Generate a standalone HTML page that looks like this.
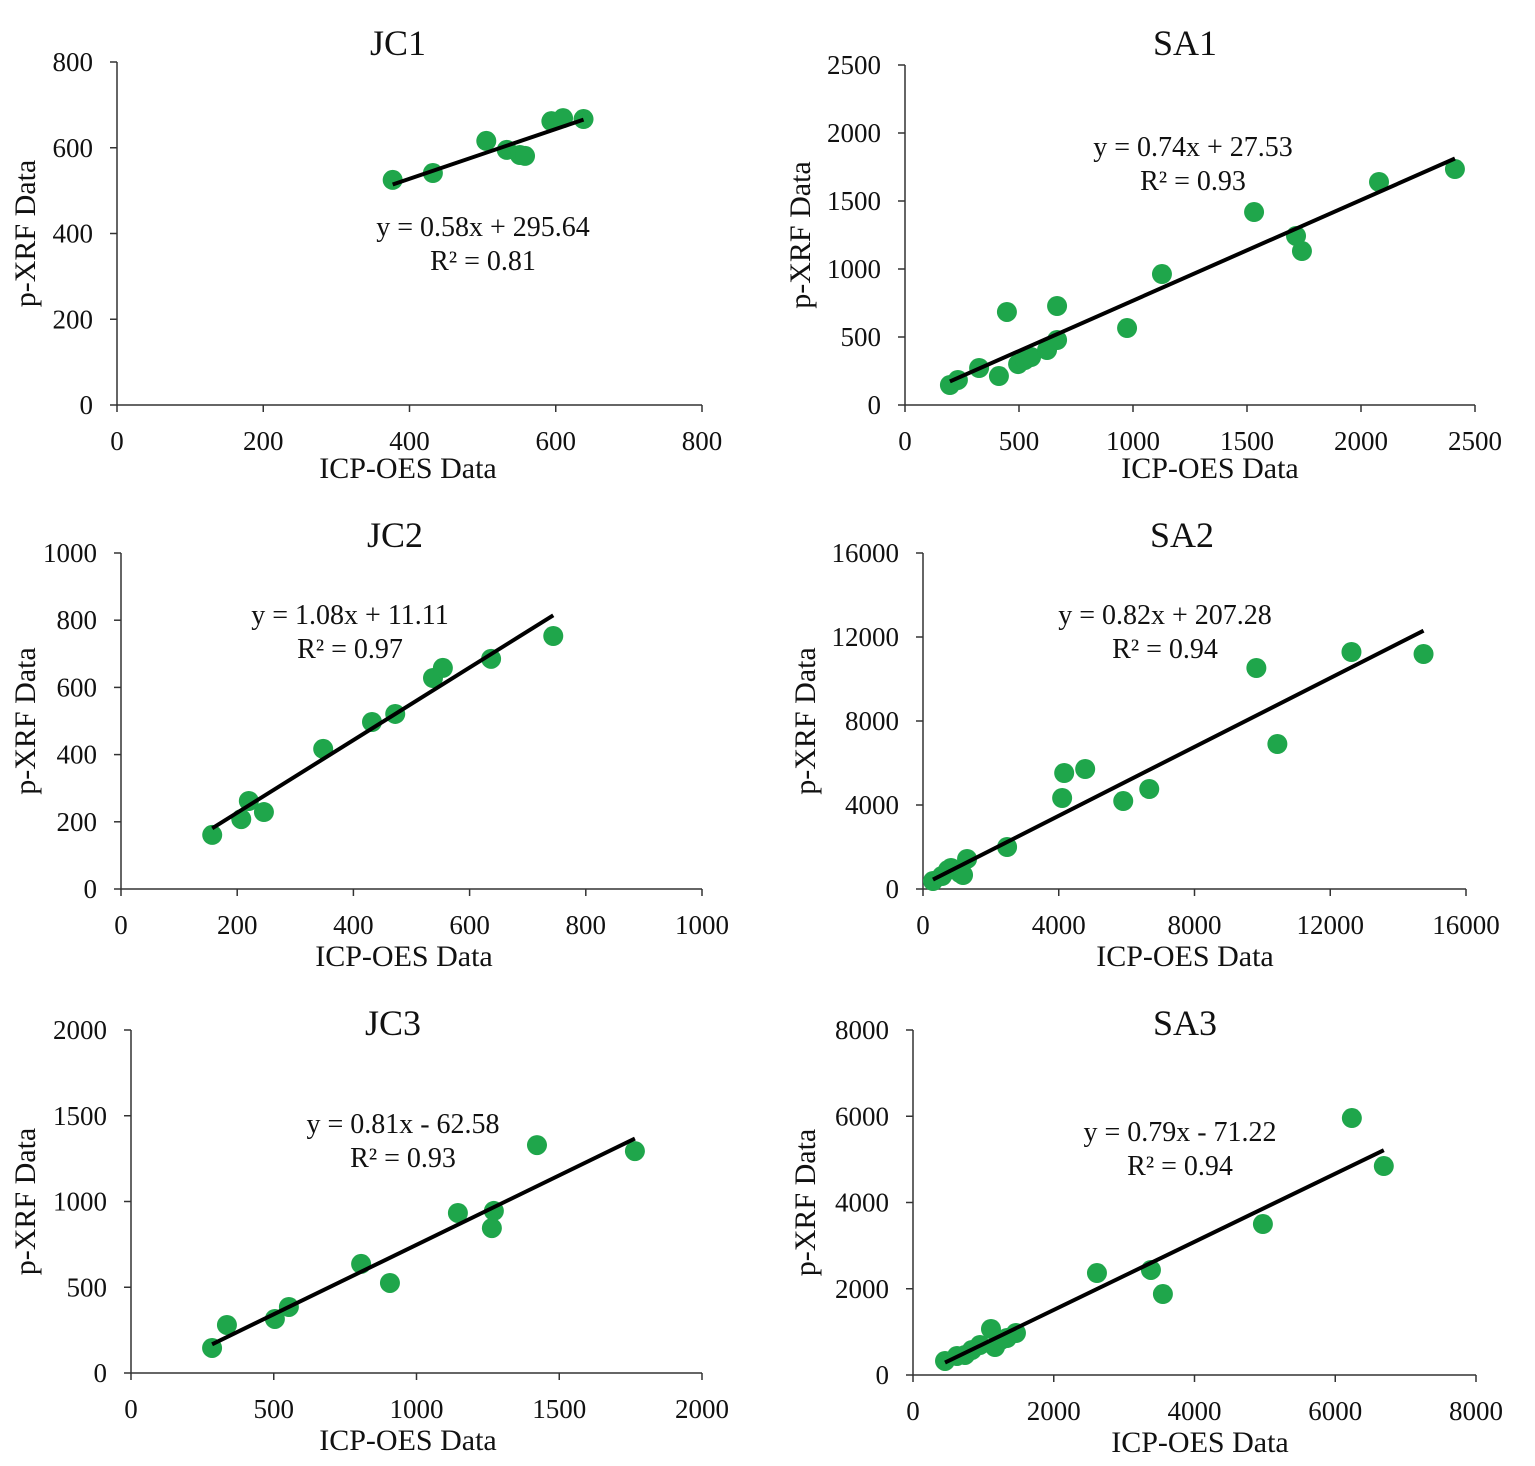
<!DOCTYPE html>
<html><head><meta charset="utf-8">
<style>
html,body{margin:0;padding:0;background:#fff;}
svg text{font-family:"Liberation Serif","Times New Roman",serif;fill:#111;}
</style></head>
<body>
<svg id="fig" width="1535" height="1461" viewBox="0 0 1535 1461" xmlns="http://www.w3.org/2000/svg"></svg>
<script>
// ---- data ----
const jc1X=[377,432,505,533,551,558,594,610,638];
const jc1Y=[525,541,616,595,583,581,662,669,667];
const sa1X=[197,232,325,412,447,496,526,553,623,667,667,974,1127,1531,1715,1741,2079,2412];
const sa1Y=[147,184,272,213,684,301,331,353,404,478,728,566,963,1419,1243,1132,1640,1735];
const jc2X=[157,207,220,246,348,432,472,537,554,637,744];
const jc2Y=[161,208,262,229,417,497,521,628,658,685,753];
const sa2X=[295,560,737,826,1091,1180,1298,2478,4100,4160,4779,5900,6667,9823,10442,12625,14749];
const sa2Y=[381,619,905,1000,762,667,1429,2000,4333,5524,5714,4190,4762,10524,6905,11286,11190];
const jc3X=[284,336,504,553,806,907,1145,1264,1271,1422,1765];
const jc3Y=[146,280,315,385,636,525,933,845,945,1329,1294];
const sa3X=[455,625,739,838,952,1108,1165,1250,1335,1463,2614,3381,3551,4972,6236,6690];
const sa3Y=[325,441,464,580,696,1067,649,812,858,974,2365,2435,1878,3501,5959,4846];
const slopes=[0.58,0.74,1.08,0.82,0.81,0.79];
const intercepts=[295.64,27.53,11.11,207.28,-62.58,-71.22];
const eqLabels=["y = 0.58x + 295.64","y = 0.74x + 27.53","y = 1.08x + 11.11","y = 0.82x + 207.28","y = 0.81x - 62.58","y = 0.79x - 71.22"];
const r2Labels=["R² = 0.81","R² = 0.93","R² = 0.97","R² = 0.94","R² = 0.93","R² = 0.94"];
const titles=["JC1","SA1","JC2","SA2","JC3","SA3"];
const axisMax=[800,2500,1000,16000,2000,8000];
const axisStep=[200,500,200,4000,500,2000];

const xs=[jc1X,sa1X,jc2X,sa2X,jc3X,sa3X];
const ys=[jc1Y,sa1Y,jc2Y,sa2Y,jc3Y,sa3Y];
const layout=[
 {L:117,R:702,T:62,B:405,tx:398,ty:44,ex:483,ey:226,xlx:408,xly:468,ylx:25},
 {L:905,R:1475,T:65,B:405,tx:1185,ty:44,ex:1193,ey:146,xlx:1210,xly:468,ylx:800},
 {L:121,R:702,T:553,B:889,tx:395,ty:536,ex:350,ey:614,xlx:404,xly:956,ylx:25},
 {L:923,R:1466,T:553,B:889,tx:1182,ty:536,ex:1165,ey:614,xlx:1185,xly:956,ylx:805},
 {L:131,R:702,T:1030,B:1373,tx:393,ty:1024,ex:403,ey:1123,xlx:408,xly:1440,ylx:25},
 {L:913,R:1476,T:1030,B:1375,tx:1185,ty:1024,ex:1180,ey:1131,xlx:1200,xly:1442,ylx:805}
];
const svg=document.getElementById('fig');
const NS="http://www.w3.org/2000/svg";
function mk(tag,attrs,parent,txt){const e=document.createElementNS(NS,tag);for(const k in attrs)e.setAttribute(k,attrs[k]);if(txt!==undefined)e.textContent=txt;parent.appendChild(e);return e;}

layout.forEach((p,i)=>{
 const g=mk('g',{},svg);
 
 
 const max=axisMax[i],step=axisStep[i];
 const sx=v=>p.L+(v/max)*(p.R-p.L);
 const sy=v=>p.B-(v/max)*(p.B-p.T);
 const ax=mk('path',{d:`M${p.L},${p.T}V${p.B}H${p.R}`,stroke:'#333',fill:'none','stroke-width':1.5},g);
 
 
 for(let v=0;v<=max+1e-9;v+=step){
  mk('line',{x1:p.L-7,x2:p.L,y1:sy(v),y2:sy(v),stroke:'#333','stroke-width':1.5},g);
  mk('line',{x1:sx(v),x2:sx(v),y1:p.B,y2:p.B+7,stroke:'#333','stroke-width':1.5},g);
  const yl=mk('text',{x:p.L-24,y:sy(v)+9,'text-anchor':'end','font-size':27},g,String(v));
  
  
  const xl=mk('text',{x:sx(v),y:p.B+45,'text-anchor':'middle','font-size':27},g,String(v));
  
  
 }
 const t=mk('text',{x:p.tx,y:p.ty+11,'text-anchor':'middle','font-size':36},g,titles[i]);
 
 
 const xt=mk('text',{x:p.xlx,y:p.xly+10,'text-anchor':'middle','font-size':30},g,'ICP-OES Data');
 
 
 const cy=(p.T+p.B)/2;
 const yt=mk('text',{x:p.ylx+10,y:cy,'text-anchor':'middle','font-size':30,transform:`rotate(-90 ${p.ylx+10} ${cy})`},g,'p-XRF Data');
 
 
 xs[i].forEach((xv,j)=>{
  const c=mk('circle',{cx:sx(xv),cy:sy(ys[i][j]),r:10,fill:'#1fa64b'},g);
  
  
 });
 const x0=Math.min(...xs[i]),x1=Math.max(...xs[i]);
 const ln=mk('line',{x1:sx(x0),y1:sy(slopes[i]*x0+intercepts[i]),x2:sx(x1),y2:sy(slopes[i]*x1+intercepts[i]),stroke:'#000','stroke-width':4},g);
 
 
 const e=mk('text',{x:p.ex,y:p.ey+10,'text-anchor':'middle','font-size':28},g,eqLabels[i]);
 
 
 const r=mk('text',{x:p.ex,y:p.ey+44,'text-anchor':'middle','font-size':28},g,r2Labels[i]);
 
 
});
</script>
</body></html>
